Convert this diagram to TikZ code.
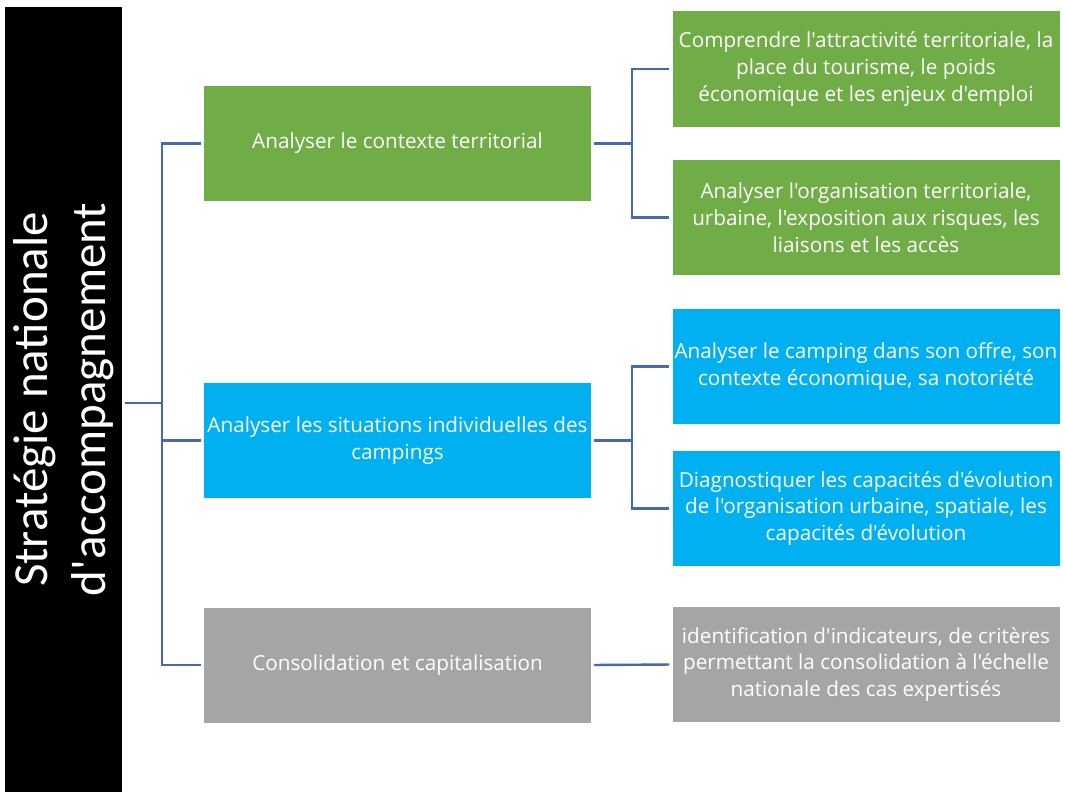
\documentclass[tikz,border=0pt]{standalone}
\usepackage{fontspec}
\newfontfamily\calib{Carlito}
\newfontfamily\segoe{Open Sans}
\usepackage{tikz}
\usetikzlibrary{positioning}
\definecolor{vert}{HTML}{70AD47}
\definecolor{bleu}{HTML}{00B0F0}
\definecolor{gris}{HTML}{A5A5A5}
\definecolor{trait}{HTML}{4468B4}

\begin{document}
\begin{tikzpicture}[x=1pt,y=-1pt,font=\segoe\fontsize{20.7}{26.8}\selectfont,
	box/.style={rectangle,text=white,align=center,minimum width=387pt,minimum height=115pt,inner sep=0pt},
	link/.style={trait,line width=2.4pt,shorten <=3pt,shorten >=3pt}]
	\useasboundingbox (0,0) rectangle (1065,792);

	\node[fill=black,rotate=90,minimum width=785pt,minimum height=117pt,inner sep=0pt,text=white,align=center,
		font=\calib\fontsize{49}{58}\selectfont] (root) at (63.5,399.5) {Stratégie nationale\\d'accompagnement};

	\node[box,fill=vert] (ax_1) at (397.5,143.5) {Analyser le contexte territorial};
	\node[box,fill=bleu] (ax_2) at (397.5,440.5) {Analyser les situations individuelles des\\campings};
	\node[box,fill=gris] (ax_3) at (397.5,665) {Consolidation et capitalisation};

	\node[box,fill=vert] (ac_1) at (866,69) {Comprendre l'attractivité territoriale, la\\place du tourisme, le poids\\économique et les enjeux d'emploi};
	\node[box,fill=vert] (ac_2) at (866,217.5) {Analyser l'organisation territoriale,\\urbaine, l'exposition aux risques, les\\liaisons et les accès};
	\node[box,fill=bleu] (ac_3) at (866,366.5) {Analyser le camping dans son offre, son\\contexte économique, sa notoriété};
	\node[box,fill=bleu] (ac_4) at (866,508.5) {Diagnostiquer les capacités d'évolution\\de l'organisation urbaine, spatiale, les\\capacités d'évolution};
	\node[box,fill=gris] (ac_5) at (866,664.5) {identification d'indicateurs, de critères\\permettant la consolidation à l'échelle\\nationale des cas expertisés};

	\foreach \t in {ax_1,ax_2,ax_3}
		\draw[link] ([yshift=-3.5pt]root.south) -- ++(40,0) |- (\t.west);

	\draw[link] (ax_1.east) -- ++(41,0) |- (ac_1.west);
	\draw[link] (ax_1.east) -- ++(41,0) |- (ac_2.west);
	\draw[link] (ax_2.east) -- ++(41,0) |- (ac_3.west);
	\draw[link] (ax_2.east) -- ++(41,0) |- (ac_4.west);
	\draw[link] (ax_3.east) -- (ac_5.west);
\end{tikzpicture}
\end{document}
